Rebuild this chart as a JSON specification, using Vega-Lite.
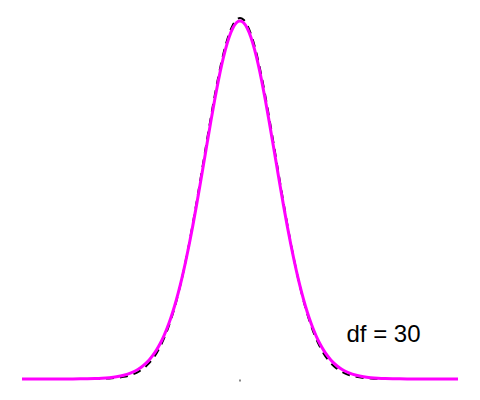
{
  "$schema": "https://vega.github.io/schema/vega-lite/v6.json",
  "width": 436,
  "height": 362,
  "autosize": {"type": "none"},
  "padding": {"left": 22, "top": 17, "right": 22, "bottom": 21},
  "background": "white",
  "config": {"view": {"stroke": null}},
  "datasets": {
    "curves": [
      {"x": -6.0, "n": 0, "t": 0},
      {"x": -5.5, "n": 0, "t": 0.00001},
      {"x": -5.0, "n": 0, "t": 0.00003},
      {"x": -4.8, "n": 0, "t": 0.00006},
      {"x": -4.6, "n": 0.00001, "t": 0.0001},
      {"x": -4.4, "n": 0.00002, "t": 0.00018},
      {"x": -4.2, "n": 0.00006, "t": 0.00031},
      {"x": -4.0, "n": 0.00013, "t": 0.00053},
      {"x": -3.8, "n": 0.00029, "t": 0.00089},
      {"x": -3.6, "n": 0.00061, "t": 0.00151},
      {"x": -3.4, "n": 0.00123, "t": 0.00252},
      {"x": -3.2, "n": 0.00238, "t": 0.00417},
      {"x": -3.0, "n": 0.00443, "t": 0.00678},
      {"x": -2.9, "n": 0.00595, "t": 0.00859},
      {"x": -2.8, "n": 0.00792, "t": 0.01082},
      {"x": -2.7, "n": 0.01042, "t": 0.01358},
      {"x": -2.6, "n": 0.01358, "t": 0.01696},
      {"x": -2.5, "n": 0.01753, "t": 0.02106},
      {"x": -2.4, "n": 0.02239, "t": 0.026},
      {"x": -2.3, "n": 0.02833, "t": 0.03192},
      {"x": -2.2, "n": 0.03547, "t": 0.03894},
      {"x": -2.1, "n": 0.04398, "t": 0.0472},
      {"x": -2.0, "n": 0.05399, "t": 0.05685},
      {"x": -1.9, "n": 0.06562, "t": 0.06798},
      {"x": -1.8, "n": 0.07895, "t": 0.08071},
      {"x": -1.7, "n": 0.09405, "t": 0.09511},
      {"x": -1.6, "n": 0.11092, "t": 0.11119},
      {"x": -1.5, "n": 0.12952, "t": 0.12895},
      {"x": -1.4, "n": 0.14973, "t": 0.14834},
      {"x": -1.3, "n": 0.17137, "t": 0.16919},
      {"x": -1.2, "n": 0.19419, "t": 0.1913},
      {"x": -1.1, "n": 0.21785, "t": 0.21435},
      {"x": -1.0, "n": 0.24197, "t": 0.23799},
      {"x": -0.9, "n": 0.26609, "t": 0.26179},
      {"x": -0.8, "n": 0.28969, "t": 0.28523},
      {"x": -0.7, "n": 0.31225, "t": 0.30777},
      {"x": -0.6, "n": 0.33322, "t": 0.32884},
      {"x": -0.5, "n": 0.35207, "t": 0.34788},
      {"x": -0.4, "n": 0.36827, "t": 0.36432},
      {"x": -0.3, "n": 0.38139, "t": 0.37768},
      {"x": -0.2, "n": 0.39104, "t": 0.38754},
      {"x": -0.1, "n": 0.39695, "t": 0.39359},
      {"x": 0.0, "n": 0.39894, "t": 0.39563},
      {"x": 0.1, "n": 0.39695, "t": 0.39359},
      {"x": 0.2, "n": 0.39104, "t": 0.38754},
      {"x": 0.3, "n": 0.38139, "t": 0.37768},
      {"x": 0.4, "n": 0.36827, "t": 0.36432},
      {"x": 0.5, "n": 0.35207, "t": 0.34788},
      {"x": 0.6, "n": 0.33322, "t": 0.32884},
      {"x": 0.7, "n": 0.31225, "t": 0.30777},
      {"x": 0.8, "n": 0.28969, "t": 0.28523},
      {"x": 0.9, "n": 0.26609, "t": 0.26179},
      {"x": 1.0, "n": 0.24197, "t": 0.23799},
      {"x": 1.1, "n": 0.21785, "t": 0.21435},
      {"x": 1.2, "n": 0.19419, "t": 0.1913},
      {"x": 1.3, "n": 0.17137, "t": 0.16919},
      {"x": 1.4, "n": 0.14973, "t": 0.14834},
      {"x": 1.5, "n": 0.12952, "t": 0.12895},
      {"x": 1.6, "n": 0.11092, "t": 0.11119},
      {"x": 1.7, "n": 0.09405, "t": 0.09511},
      {"x": 1.8, "n": 0.07895, "t": 0.08071},
      {"x": 1.9, "n": 0.06562, "t": 0.06798},
      {"x": 2.0, "n": 0.05399, "t": 0.05685},
      {"x": 2.1, "n": 0.04398, "t": 0.0472},
      {"x": 2.2, "n": 0.03547, "t": 0.03894},
      {"x": 2.3, "n": 0.02833, "t": 0.03192},
      {"x": 2.4, "n": 0.02239, "t": 0.026},
      {"x": 2.5, "n": 0.01753, "t": 0.02106},
      {"x": 2.6, "n": 0.01358, "t": 0.01696},
      {"x": 2.7, "n": 0.01042, "t": 0.01358},
      {"x": 2.8, "n": 0.00792, "t": 0.01082},
      {"x": 2.9, "n": 0.00595, "t": 0.00859},
      {"x": 3.0, "n": 0.00443, "t": 0.00678},
      {"x": 3.2, "n": 0.00238, "t": 0.00417},
      {"x": 3.4, "n": 0.00123, "t": 0.00252},
      {"x": 3.6, "n": 0.00061, "t": 0.00151},
      {"x": 3.8, "n": 0.00029, "t": 0.00089},
      {"x": 4.0, "n": 0.00013, "t": 0.00053},
      {"x": 4.2, "n": 0.00006, "t": 0.00031},
      {"x": 4.4, "n": 0.00002, "t": 0.00018},
      {"x": 4.6, "n": 0.00001, "t": 0.0001},
      {"x": 4.8, "n": 0, "t": 0.00006},
      {"x": 5.0, "n": 0, "t": 0.00003},
      {"x": 5.5, "n": 0, "t": 0.00001},
      {"x": 6.0, "n": 0, "t": 0}
    ]
  },
  "layer": [
    {
      "data": {"name": "curves"},
      "mark": {"type": "line", "color": "black", "strokeWidth": 2, "strokeDash": [8, 6], "interpolate": "monotone"},
      "encoding": {
        "x": {"field": "x", "type": "quantitative", "scale": {"domain": [-6, 6], "nice": false, "zero": false}, "axis": null},
        "y": {"field": "n", "type": "quantitative", "scale": {"domain": [0, 0.4], "nice": false}, "axis": null}
      }
    },
    {
      "data": {"name": "curves"},
      "mark": {"type": "line", "color": "#ff00ff", "strokeWidth": 3, "interpolate": "monotone"},
      "encoding": {
        "x": {"field": "x", "type": "quantitative"},
        "y": {"field": "t", "type": "quantitative"}
      }
    },
    {
      "data": {"values": [{"x": 0, "y": 0}]},
      "mark": {"type": "square", "color": "#555555", "size": 4, "filled": true, "yOffset": 1.5},
      "encoding": {
        "x": {"field": "x", "type": "quantitative"},
        "y": {"field": "y", "type": "quantitative"}
      }
    },
    {
      "data": {"values": [{"x": 3.95, "y": 0.049, "label": "df = 30"}]},
      "mark": {"type": "text", "font": "Liberation Sans", "fontSize": 24, "color": "black", "align": "center", "baseline": "middle"},
      "encoding": {
        "x": {"field": "x", "type": "quantitative"},
        "y": {"field": "y", "type": "quantitative"},
        "text": {"field": "label"}
      }
    }
  ]
}
